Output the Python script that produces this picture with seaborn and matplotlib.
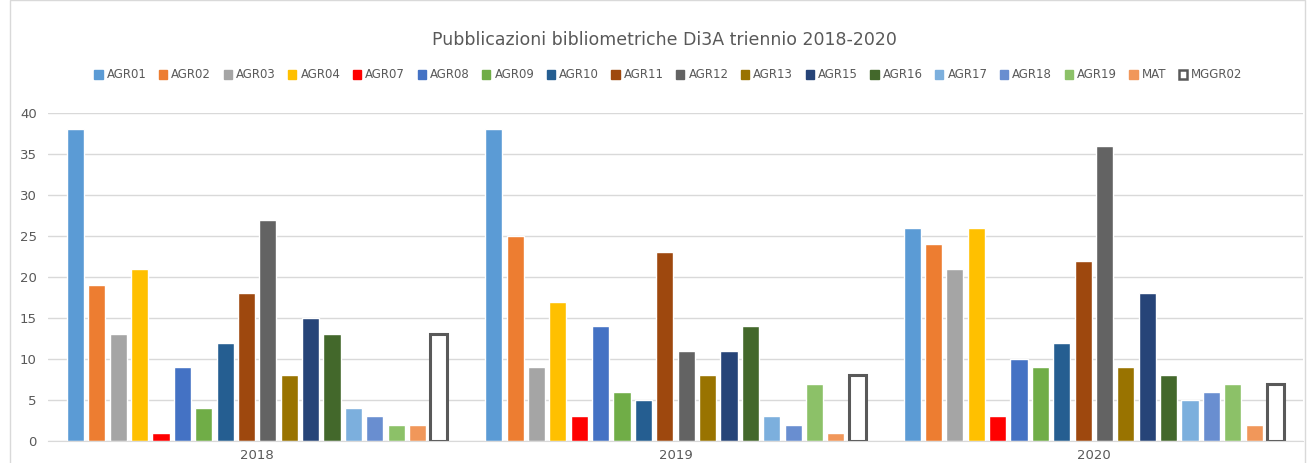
import pandas as pd
import matplotlib.pyplot as plt
import seaborn as sns
from matplotlib.patches import Patch, Rectangle

# Dati
anni = ["2018", "2019", "2020"]
settori = ["AGR01", "AGR02", "AGR03", "AGR04", "AGR07", "AGR08", "AGR09", "AGR10", "AGR11",
           "AGR12", "AGR13", "AGR15", "AGR16", "AGR17", "AGR18", "AGR19", "MAT", "MGGR02"]
v2018 = [38, 19, 13, 21, 1, 9, 4, 12, 18, 27, 8, 15, 13, 4, 3, 2, 2, 13]
v2019 = [38, 25, 9, 17, 3, 14, 6, 5, 23, 11, 8, 11, 14, 3, 2, 7, 1, 8]
v2020 = [26, 24, 21, 26, 3, 10, 9, 12, 22, 36, 9, 18, 8, 5, 6, 7, 2, 7]
colori = ["#5B9BD5", "#ED7D31", "#A5A5A5", "#FFC000", "#FF0000", "#4472C4", "#70AD47", "#255E91",
          "#9E480E", "#636363", "#997300", "#264478", "#43682B", "#7CAFDD", "#698ED0", "#8CC168",
          "#F1975A", "#FFFFFF"]

rows = []
for anno, vals in zip(anni, [v2018, v2019, v2020]):
    for s, v in zip(settori, vals):
        rows.append({"anno": anno, "settore": s, "pubblicazioni": v})
df = pd.DataFrame(rows)

sns.set_style("white")
plt.rcParams['font.family'] = ['DejaVu Sans']

fig = plt.figure(figsize=(13.08, 4.63), dpi=100)
ax = fig.add_axes([48/1308, 22/463, 1255/1308, 328/463])

sns.barplot(data=df, x="anno", y="pubblicazioni", hue="settore", order=anni, hue_order=settori,
            palette=colori, saturation=1, width=0.92, gap=0.2, legend=False, ax=ax)

# MGGR02 vuoto con bordo scuro
for bar in ax.containers[-1]:
    bar.set_facecolor("white")
    bar.set_edgecolor("#595959")
    bar.set_linewidth(2.2)

ax.set_xlim(-0.5, 2.5)
ax.set_ylim(0, 40)
ax.set_yticks(range(0, 41, 5))
ax.yaxis.grid(True, color="#D9D9D9", linewidth=1)
ax.set_axisbelow(True)
ax.set_xlabel("")
ax.set_ylabel("")
for side in ["top", "right", "left"]:
    ax.spines[side].set_visible(False)
ax.spines["bottom"].set_color("#D9D9D9")
ax.tick_params(axis="both", length=0, labelsize=9.5, labelcolor="#595959")
ax.tick_params(axis="x", pad=6)
ax.tick_params(axis="y", pad=8)

# legenda
handles = []
for s, c in zip(settori, colori):
    if s == "MGGR02":
        handles.append(Patch(facecolor="white", edgecolor="#595959", linewidth=1.8, label=s))
    else:
        handles.append(Patch(facecolor=c, edgecolor=c, label=s))
fig.legend(handles=handles, loc="center", bbox_to_anchor=(0.511, 1 - 75/463), ncol=18,
           frameon=False, fontsize=8.5, handlelength=0.7, handleheight=0.7, handletextpad=0.35,
           columnspacing=1.05, labelcolor="#595959")

fig.text(0.508, 1 - 40/463, "Pubblicazioni bibliometriche Di3A triennio 2018-2020",
         ha="center", va="center", fontsize=12.5, color="#595959")

# bordo area grafico
fig.patches.append(Rectangle((10/1308, -0.1), 1295/1308, 1.1, transform=fig.transFigure,
                             fill=False, edgecolor="#D9D9D9", linewidth=1))

fig.savefig("out.png", dpi=100)
